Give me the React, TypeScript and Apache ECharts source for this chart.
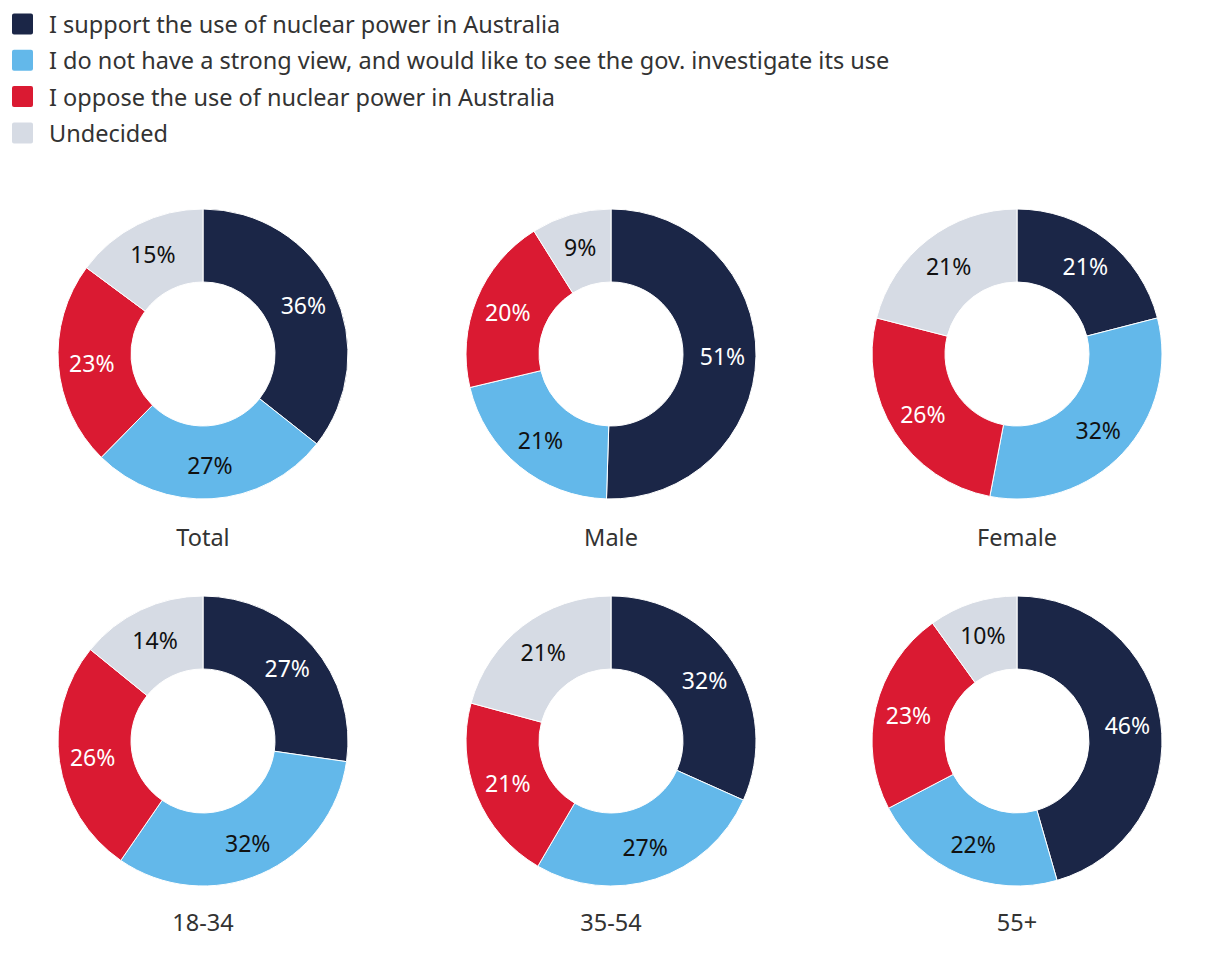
import React, { useEffect, useRef } from "react";
import * as echarts from "echarts";

const categories = [
  "I support the use of nuclear power in Australia",
  "I do not have a strong view, and would like to see the gov. investigate its use",
  "I oppose the use of nuclear power in Australia",
  "Undecided",
];
const groups = ["Total", "Male", "Female", "18-34", "35-54", "55+"];
const total = [36, 27, 23, 15];
const male = [51, 21, 20, 9];
const female = [21, 32, 26, 21];
const age1834 = [27, 32, 26, 14];
const age3554 = [32, 27, 21, 21];
const age55 = [46, 22, 23, 10];
const groupValues = [total, male, female, age1834, age3554, age55];

const colors = ["#1b2647", "#63b8ea", "#da1a32", "#d6dbe4"];
const labelColors = ["#ffffff", "#111111", "#ffffff", "#111111"];
const FONT = "'Noto Sans', sans-serif";

const centersX = [203, 611, 1017];
const centersY = [354, 741];
const titleY = [537, 922];

const squareIcon =
  "path://M3,0 L20,0 Q23,0 23,3 L23,20 Q23,23 20,23 L3,23 Q0,23 0,20 L0,3 Q0,0 3,0 Z";

export default function App() {
  const ref = useRef<HTMLDivElement>(null);
  useEffect(() => {
    if (!ref.current) return;
    const chart = echarts.init(ref.current, null, { renderer: "svg" });
    const series = groupValues.map((vals, gi) => ({
      type: "pie",
      name: groups[gi],
      center: [centersX[gi % 3], centersY[Math.floor(gi / 3)]],
      radius: [72, 145],
      startAngle: 90,
      clockwise: true,
      avoidLabelOverlap: false,
      itemStyle: { borderColor: "#ffffff", borderWidth: 1 },
      label: {
        show: true,
        position: "inside",
        formatter: "{c}%",
        fontSize: 23,
        fontFamily: FONT,
      },
      labelLine: { show: false },
      emphasis: { disabled: true },
      data: vals.map((v, i) => ({
        name: categories[i],
        value: v,
        itemStyle: { color: colors[i] },
        label: { color: labelColors[i] },
      })),
    }));
    const graphic = groups.map((g, gi) => ({
      type: "text",
      x: centersX[gi % 3],
      y: titleY[Math.floor(gi / 3)],
      style: {
        text: g,
        fill: "#333333",
        font: `23.5px ${FONT}`,
        textAlign: "center",
        textVerticalAlign: "middle",
      },
    }));
    chart.setOption({
      animation: false,
      color: colors,
      textStyle: { fontFamily: FONT },
      legend: {
        orient: "vertical",
        left: 10,
        top: 11.5,
        padding: 0,
        itemWidth: 23,
        itemHeight: 23,
        itemGap: 11.3,
        icon: squareIcon,
        selectedMode: false,
        data: categories,
        textStyle: {
          fontSize: 23.5,
          lineHeight: 23,
          color: "#333333",
          fontFamily: FONT,
          padding: [0, 0, 0, 10],
        },
      },
      graphic,
      series,
    });
    return () => chart.dispose();
  }, []);
  return (
    <div
      ref={ref}
      style={{ position: "fixed", left: 0, top: 0, width: 1220, height: 972, background: "#fff" }}
    />
  );
}
